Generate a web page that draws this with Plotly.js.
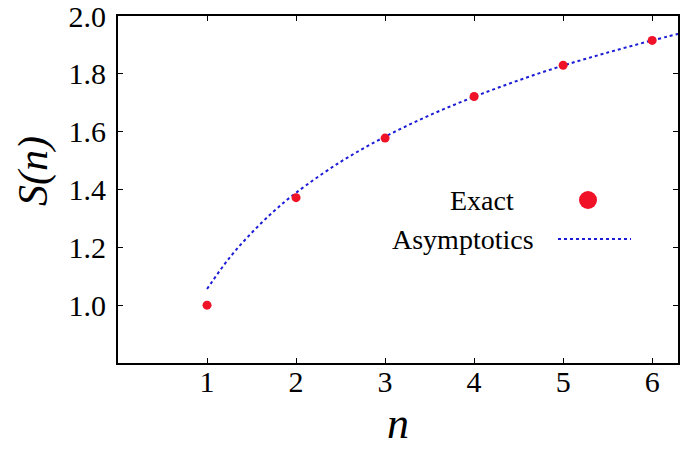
<!DOCTYPE html>
<html>
<head>
<meta charset="utf-8">
<script src="https://cdn.plot.ly/plotly-3.0.1.min.js"></script>
<style>
  html, body { margin: 0; padding: 0; background: white; }
  #chart { width: 681px; height: 451px; }
</style>
</head>
<body>
<div id="chart"></div>
<script>
// exact values S(n)
const exactN = [1, 2, 3, 4, 5, 6]
const exactS = [1.0, 1.372, 1.578, 1.722, 1.830, 1.916]

// asymptotic curve, read at a few points along the dotted line
const asymN = [1, 1.25, 1.5, 1.75, 2, 2.5, 3, 3.5, 4, 4.5, 5, 5.5, 6, 6.3]
const asymS = [1.056, 1.163, 1.250, 1.325, 1.389, 1.496, 1.583, 1.657, 1.721, 1.778, 1.829, 1.874, 1.916, 1.939]

const xTicks = [1, 2, 3, 4, 5, 6]
const yTicks = [1.0, 1.2, 1.4, 1.6, 1.8, 2.0]
const yTickText = ['1.0', '1.2', '1.4', '1.6', '1.8', '2.0']

const red = 'rgb(240,18,38)'
const blue = 'rgb(28,28,215)'
const serif = 'Liberation Serif, Times New Roman, serif'

function drawChart() {
    const chart = document.getElementById('chart')

    const data = [{
            x: asymN,
            y: asymS,
            mode: 'lines',
            type: 'scatter',
            name: 'Asymptotics',
            line: { color: blue, width: 2, dash: 'dot', shape: 'spline' },
            hoverinfo: 'skip'
        }, {
            x: exactN,
            y: exactS,
            mode: 'markers',
            type: 'scatter',
            name: 'Exact',
            marker: { color: red, size: 9 }
        }]

    const axisCommon = {
        showline: true,
        linecolor: 'black',
        linewidth: 2,
        mirror: 'ticks',
        ticks: 'inside',
        ticklen: 5,
        tickwidth: 1,
        tickcolor: 'black',
        showgrid: false,
        zeroline: false,
        ticklabeloverflow: 'allow',
        tickfont: { family: serif, size: 30, color: 'black' }
    }

    const layout = {
        width: 681,
        height: 451,
        showlegend: false,
        paper_bgcolor: 'white',
        plot_bgcolor: 'white',
        margin: { l: 118, r: 3, t: 16, b: 88 },
        xaxis: Object.assign({}, axisCommon, {
            range: [0, 6.29],
            tickvals: xTicks,
            ticklabelstandoff: -9,
            title: {
                text: 'n',
                font: { family: serif, size: 44, style: 'italic', color: 'black' },
                standoff: 10
            }
        }),
        yaxis: Object.assign({}, axisCommon, {
            range: [0.8, 2.0005],
            tickvals: yTicks,
            ticktext: yTickText,
            ticklabelstandoff: 4
        }),
        annotations: [{
                text: 'S(n)',
                xref: 'paper', yref: 'paper',
                x: -0.152, y: 0.553,
                xanchor: 'center', yanchor: 'middle',
                textangle: -90,
                showarrow: false,
                font: { family: serif, size: 42, style: 'italic', color: 'black' }
            }, {
                text: 'Exact',
                xref: 'paper', yref: 'paper',
                x: 0.7107, y: 0.4697,
                xanchor: 'right', yanchor: 'middle',
                showarrow: false,
                font: { family: serif, size: 28, color: 'black' }
            }, {
                text: 'Asymptotics',
                xref: 'paper', yref: 'paper',
                x: 0.7464, y: 0.357,
                xanchor: 'right', yanchor: 'middle',
                showarrow: false,
                font: { family: serif, size: 28, color: 'black' }
            }],
        shapes: [{
                // legend sample for Exact
                type: 'circle',
                xref: 'paper', yref: 'paper',
                x0: 0.8232, x1: 0.8554, y0: 0.4438, y1: 0.4956,
                fillcolor: red,
                line: { width: 0 }
            }, {
                // legend sample for Asymptotics
                type: 'line',
                xref: 'paper', yref: 'paper',
                x0: 0.7857, x1: 0.9161, y0: 0.3573, y1: 0.3573,
                line: { color: blue, width: 2, dash: 'dot' }
            }]
    }

    Plotly.newPlot(chart, data, layout, { staticPlot: true })
}

drawChart()
</script>
</body>
</html>
